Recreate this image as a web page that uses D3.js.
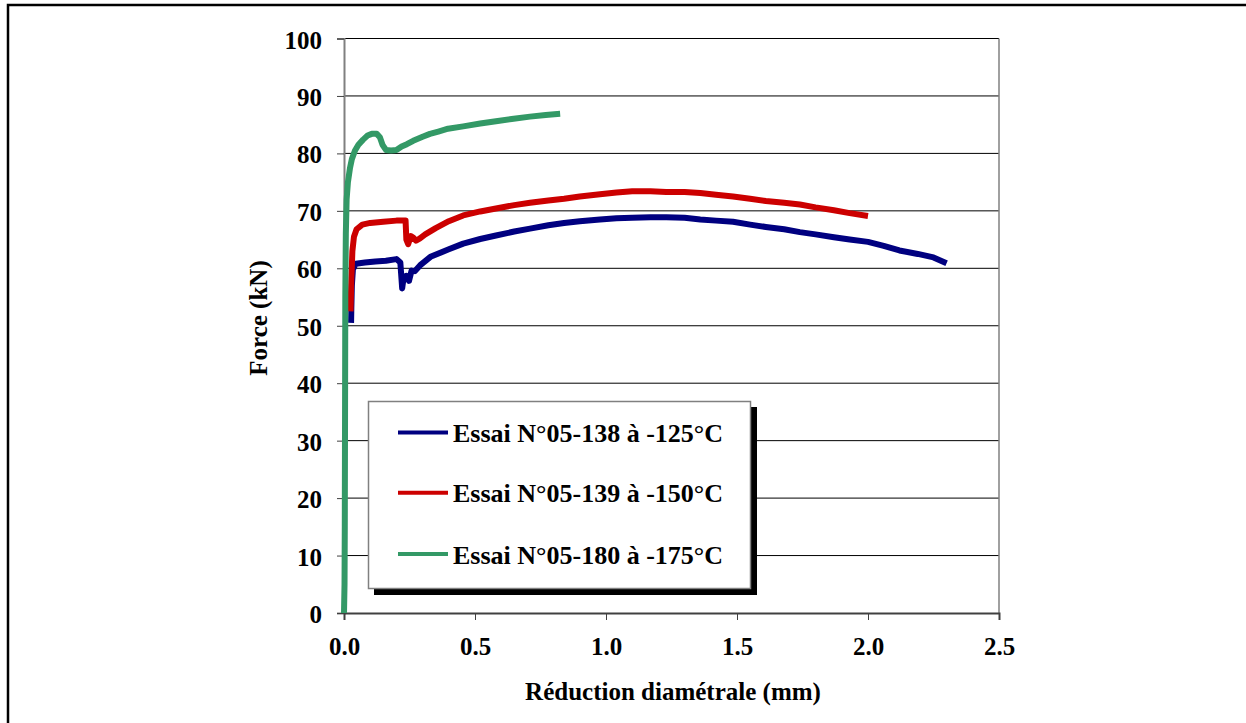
<!DOCTYPE html>
<html><head><meta charset="utf-8">
<script src="https://cdn.jsdelivr.net/npm/d3@7"></script>
<style>body{margin:0;background:#fff}svg{display:block}text{font-family:"Liberation Serif","Times New Roman",serif;font-weight:bold;fill:#000}</style>
</head><body><svg id="c" width="1246" height="723"></svg>
<script>
const xTicks = [0, 0.5, 1.0, 1.5, 2.0, 2.5];
const yTicks = [0,10,20,30,40,50,60,70,80,90,100];
const seriesNames = ["Essai N°05-138 à -125°C","Essai N°05-139 à -150°C","Essai N°05-180 à -175°C"];
const seriesColors = ["#000080","#cc0000","#339966"];

const blueX = [0.027,0.028,0.03,0.034,0.045,0.08,0.12,0.16,0.20,0.215,0.222,0.228,0.238,0.248,0.258,0.27,0.29,0.33,0.40,0.455,0.52,0.58,0.65,0.71,0.78,0.84,0.90,0.977,1.04,1.10,1.17,1.23,1.30,1.36,1.42,1.485,1.55,1.61,1.68,1.74,1.80,1.87,1.93,2.0,2.06,2.12,2.19,2.25,2.30];
const blueY = [50.5,53,57,59.8,60.8,61.0,61.2,61.3,61.6,61.0,56.5,58.5,58.7,57.8,59.6,59.5,60.5,62,63.3,64.3,65.1,65.7,66.4,66.9,67.5,67.9,68.2,68.5,68.7,68.8,68.9,68.9,68.8,68.5,68.3,68.1,67.6,67.2,66.8,66.3,65.9,65.4,65.0,64.6,63.9,63.1,62.5,61.9,60.9];

const redX = [0.025,0.028,0.032,0.038,0.048,0.07,0.10,0.15,0.20,0.235,0.238,0.245,0.255,0.265,0.275,0.29,0.31,0.35,0.40,0.455,0.52,0.58,0.65,0.71,0.78,0.84,0.90,0.977,1.04,1.10,1.17,1.23,1.30,1.36,1.42,1.485,1.55,1.61,1.68,1.74,1.80,1.87,1.93,2.0];
const redY = [52.5,58,63,65.5,66.8,67.6,67.9,68.1,68.3,68.3,65.0,64.2,65.6,65.3,64.8,65.2,65.9,67.0,68.2,69.2,69.9,70.4,71.0,71.4,71.8,72.1,72.5,72.9,73.2,73.4,73.4,73.3,73.3,73.1,72.8,72.5,72.1,71.7,71.4,71.1,70.6,70.1,69.6,69.1];

const greenX = [0.0,0.002,0.003,0.004,0.005,0.007,0.01,0.015,0.023,0.03,0.042,0.055,0.073,0.09,0.106,0.125,0.137,0.147,0.16,0.18,0.2,0.22,0.24,0.264,0.3,0.328,0.36,0.397,0.455,0.52,0.58,0.64,0.71,0.77,0.825];
const greenY = [0,5,15,35,55,66,72,75,77.5,79,80.5,81.5,82.4,83.1,83.4,83.4,82.8,81.5,80.6,80.5,80.6,81.2,81.6,82.2,82.9,83.4,83.8,84.3,84.7,85.2,85.6,86.0,86.4,86.7,86.9];

const svg = d3.select("#c");
const x = d3.scaleLinear().domain([0,2.5]).range([344,999]);
const y = d3.scaleLinear().domain([0,100]).range([613,38.5]);

// outer frame
svg.append("rect").attr("x",8).attr("y",5).attr("width",1300).attr("height",800)
  .attr("fill","none").attr("stroke","#000").attr("stroke-width",2.5);

// gridlines
svg.append("g").selectAll("line").data(yTicks.filter(d=>d>0)).join("line")
  .attr("x1",x(0)).attr("x2",x(2.5)).attr("y1",d=>y(d)).attr("y2",d=>y(d))
  .attr("stroke","#000").attr("stroke-width",1);
// right border
svg.append("line").attr("x1",x(2.5)).attr("x2",x(2.5)).attr("y1",y(100)).attr("y2",y(0))
  .attr("stroke","#808080").attr("stroke-width",1.5);

// axes
const yAxis = d3.axisLeft(y).tickValues(yTicks).tickSize(7).tickPadding(15).tickFormat(d3.format("d"));
const gy = svg.append("g").attr("transform",`translate(${x(0)},0)`).call(yAxis);
gy.select(".domain").attr("stroke","#808080").attr("stroke-width",2);
gy.selectAll(".tick line").attr("stroke","#404040");
gy.selectAll(".tick text").attr("font-size",25).attr("dy","0.38em");

const xAxis = d3.axisBottom(x).tickValues(xTicks).tickSize(7).tickPadding(17).tickFormat(d3.format(".1f"));
const gx = svg.append("g").attr("transform",`translate(0,${y(0)})`).call(xAxis);
gx.select(".domain").attr("stroke","#404040").attr("stroke-width",2);
gx.selectAll(".tick line").attr("stroke","#404040");
gx.selectAll(".tick text").attr("font-size",25);

// axis titles
svg.append("text").attr("x",673).attr("y",700).attr("text-anchor","middle").attr("font-size",25)
  .text("Réduction diamétrale (mm)");
svg.append("text").attr("transform","translate(267,318) rotate(-90)").attr("text-anchor","middle").attr("font-size",25)
  .text("Force (kN)");

// series
const line = d3.line().x(d=>x(d[0])).y(d=>y(d[1]));
const series = [
  d3.zip(blueX, blueY),
  d3.zip(redX, redY),
  d3.zip(greenX, greenY)
];
const plot = svg.append("g");
series.forEach((s,i)=>{
  plot.append("path").datum(s).attr("d",line).attr("fill","none")
    .attr("stroke",seriesColors[i]).attr("stroke-width",6).attr("stroke-linejoin","round");
});

// legend
const lg = svg.append("g");
lg.append("rect").attr("x",374).attr("y",407).attr("width",383).attr("height",188).attr("fill","#000");
lg.append("rect").attr("x",368.5).attr("y",401.5).attr("width",382).attr("height",187).attr("fill","#fff")
  .attr("stroke","#808080").attr("stroke-width",1.5);
const rowsY = [432.5, 492.7, 554];
seriesNames.forEach((n,i)=>{
  lg.append("line").attr("x1",398).attr("x2",448).attr("y1",rowsY[i]).attr("y2",rowsY[i])
    .attr("stroke",seriesColors[i]).attr("stroke-width",4);
  lg.append("text").attr("x",453).attr("y",rowsY[i]+9.5).attr("font-size",26).text(n);
});
</script></body></html>
